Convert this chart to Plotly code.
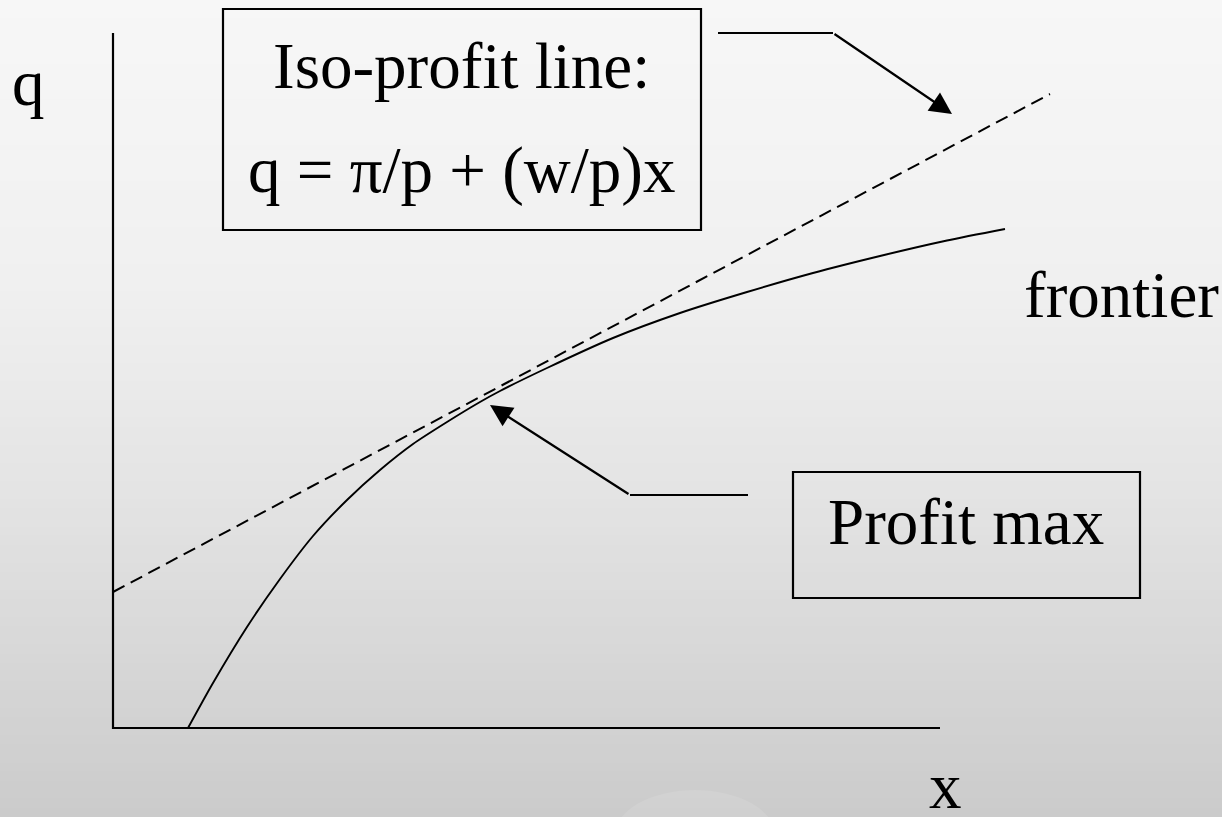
import plotly.graph_objects as go
import numpy as np

# ---- data (diagram units) ----
frontier_x = [0.75, 1.00, 1.34, 1.67, 2.00, 2.34, 2.67, 3.00, 3.34, 3.67, 3.87,
              4.34, 5.00, 5.67, 6.34, 7.00, 7.67, 8.34, 8.92]
frontier_q = [0.00, 0.45, 1.01, 1.49, 1.92, 2.28, 2.58, 2.84, 3.06, 3.26, 3.37,
              3.60, 3.90, 4.15, 4.36, 4.55, 4.72, 4.875, 4.99]
iso_x = [0.0, 9.37]
iso_q = [1.36, 6.34]
axis_x_end = 8.27
axis_q_end = 6.95

labels_text = {"q": "q", "x": "x", "frontier": "frontier",
               "iso1": "Iso-profit line:", "iso2": "q = π/p + (w/p)x",
               "pmax": "Profit max"}

FONT = "Liberation Serif, Times New Roman, serif"
W, H = 1222, 817

fig = go.Figure()

# background gradient (bands)
stops_y = [0.0, 0.35, 0.6, 1.0]
stops_c = [247, 240, 228, 203]
nb = 90
shapes = []
for i in range(nb):
    t = (i + 0.5) / nb
    c = int(round(np.interp(t, stops_y, stops_c)))
    shapes.append(dict(type="rect", xref="paper", yref="paper",
                       x0=0, x1=1, y0=1 - (i + 1) / nb - 0.002, y1=1 - i / nb,
                       fillcolor=f"rgb({c},{c},{c})", line=dict(width=0), layer="below"))
# faint decorative circle at bottom
shapes.append(dict(type="circle", xref="paper", yref="paper",
                   x0=615 / W, x1=775 / W, y0=1 - 880 / H, y1=1 - 790 / H,
                   fillcolor="rgba(255,255,255,0.10)", line=dict(width=0), layer="below"))

# axes lines
fig.add_trace(go.Scatter(x=[0, 0, axis_x_end], y=[axis_q_end, 0, 0], mode="lines",
                         line=dict(color="black", width=2.2), hoverinfo="skip"))
# iso-profit line
fig.add_trace(go.Scatter(x=iso_x, y=iso_q, mode="lines",
                         line=dict(color="black", width=2.0, dash="13px,7px"), hoverinfo="skip"))
# frontier
fig.add_trace(go.Scatter(x=frontier_x, y=frontier_q, mode="lines", line_shape="spline",
                         line=dict(color="black", width=1.9, smoothing=0.7), hoverinfo="skip"))

# boxes
box_style = dict(type="rect", xref="x", yref="y", line=dict(color="black", width=2.2),
                 fillcolor="rgba(0,0,0,0)")
shapes.append(dict(box_style, x0=1.10, x1=5.88, y0=4.98, y1=7.19))
shapes.append(dict(box_style, x0=6.80, x1=10.27, y0=1.30, y1=2.56))
# leader lines
shapes.append(dict(type="line", xref="x", yref="y", x0=6.05, x1=7.20, y0=6.95, y1=6.95,
                   line=dict(color="black", width=2.2)))
shapes.append(dict(type="line", xref="x", yref="y", x0=6.35, x1=5.17, y0=2.33, y1=2.33,
                   line=dict(color="black", width=2.2)))

annotations = []
arrow_common = dict(xref="x", yref="y", axref="x", ayref="y", text="", showarrow=True,
                    arrowhead=2, arrowsize=2.0, arrowwidth=2.2, arrowcolor="black")
annotations.append(dict(arrow_common, x=8.39, y=6.14, ax=7.20, ay=6.95))
annotations.append(dict(arrow_common, x=3.77, y=3.23, ax=5.17, ay=2.33))

def label(text, x, y, size=65):
    return dict(text=text, x=x, y=y, xref="x", yref="y", showarrow=False,
                xanchor="center", yanchor="middle",
                font=dict(family=FONT, size=size, color="black"))

annotations += [
    label(labels_text["q"], -0.85, 6.45),
    label(labels_text["x"], 8.32, -0.58),
    label(labels_text["frontier"], 10.08, 4.33),
    label(labels_text["iso1"], 3.48, 6.62),
    label(labels_text["iso2"], 3.48, 5.58),
    label(labels_text["pmax"], 8.53, 2.06),
]

fig.update_layout(
    width=W, height=H, margin=dict(l=0, r=0, t=0, b=0),
    paper_bgcolor="rgb(230,230,230)", plot_bgcolor="rgba(0,0,0,0)",
    xaxis=dict(range=[-1.13, 11.09], visible=False, fixedrange=True),
    yaxis=dict(range=[-0.89, 7.28], visible=False, fixedrange=True),
    showlegend=False, shapes=shapes, annotations=annotations,
)

fig.write_html("out.html", config={"displayModeBar": False},
               post_script="document.body.style.margin='0px';document.body.style.overflow='hidden';")
